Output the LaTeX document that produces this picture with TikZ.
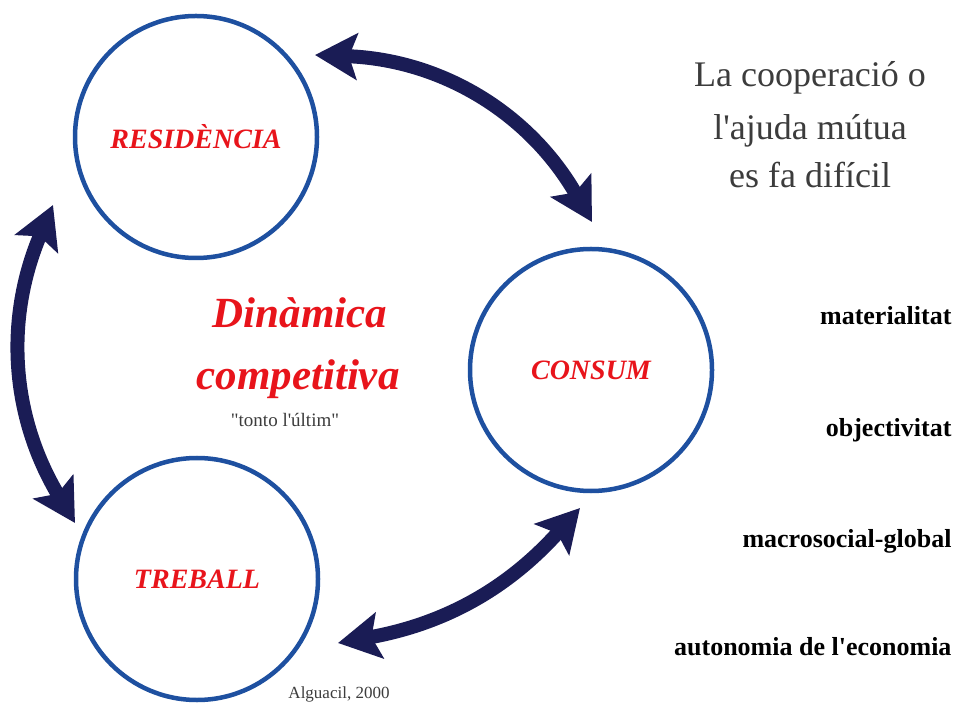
\documentclass[tikz,border=0pt]{standalone}
\usepackage{fontspec}
\setmainfont{Liberation Serif}[Ligatures=TeXOff]
\usetikzlibrary{arrows.meta}
\definecolor{ringblue}{RGB}{30,80,160}
\definecolor{arrownavy}{RGB}{26,28,85}
\definecolor{labelred}{RGB}{232,20,27}
\definecolor{textgray}{RGB}{60,60,60}

\begin{document}
\begin{tikzpicture}[x=1pt, y=1pt,
  ring/.style={circle, draw=ringblue, line width=4.5pt, minimum size=242pt, inner sep=0pt,
    text=labelred, font=\fontsize{28}{30}\selectfont\bfseries\itshape},
  twoway/.style={draw=arrownavy, line width=14pt,
    {Stealth[length=42pt,width=46pt,inset=8pt]}-{Stealth[length=42pt,width=46pt,inset=8pt]}},
  item/.style={anchor=base east, font=\fontsize{26}{28}\selectfont\bfseries}]
\fill[white] (0,0) rectangle (960,707);
\useasboundingbox (0,0) rectangle (960,707);

% the three spheres
\node[ring] (res) at (196,570) {RESIDÈNCIA};
\node[ring] (con) at (591,337) {CONSUM};
\node[ring] (tre) at (197,128) {TREBALL};

% arrow ends
\coordinate (rc) at (315,652);
\coordinate (cr) at (592,485);
\coordinate (rt) at (53,502);
\coordinate (tr) at (75,184);
\coordinate (tc) at (338,64);
\coordinate (ct) at (580,199);

\draw[twoway] (rc) to[bend left=29] (cr);
\draw[twoway] (rt) to[bend right=27] (tr);
\draw[twoway] (tc) to[bend right=19] (ct);

% centre text
\node[anchor=base, text=labelred, font=\fontsize{43}{45}\selectfont\bfseries\itshape] (din) at (300,379) {Dinàmica};
\node[anchor=base, text=labelred, font=\fontsize{43}{45}\selectfont\bfseries\itshape] (comp) at (298,317) {competitiva};
\node[anchor=base, text=textgray, font=\fontsize{19}{21}\selectfont] (tonto) at (285,280) {"tonto l'últim"};

% top right
\node[anchor=base, text=textgray, font=\fontsize{36}{38}\selectfont] (coop1) at (810,620) {La cooperació o};
\node[anchor=base, text=textgray, font=\fontsize{36}{38}\selectfont] (coop2) at (810,567) {l'ajuda mútua};
\node[anchor=base, text=textgray, font=\fontsize{36}{38}\selectfont] (coop3) at (810,519) {es fa difícil};

% list
\node[item] (mat) at (955,382) {materialitat};
\node[item] (obj) at (955,270) {objectivitat};
\node[item] (mac) at (955,160) {macrosocial-global};
\node[item] (aut) at (955,52) {autonomia de l'economia};

\node[anchor=base, text=textgray, font=\fontsize{17}{19}\selectfont] (src) at (339,9) {Alguacil, 2000};
\end{tikzpicture}
\end{document}
